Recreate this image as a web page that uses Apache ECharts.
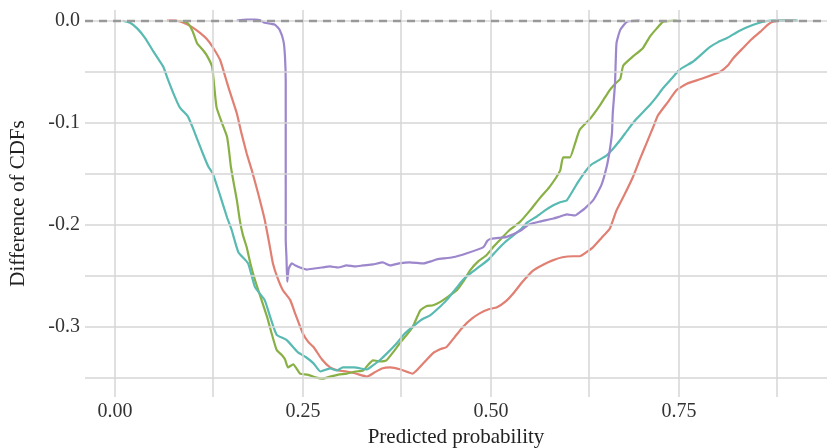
<!DOCTYPE html>
<html>
<head>
<meta charset="utf-8">
<script src="https://cdn.jsdelivr.net/npm/echarts@6/dist/echarts.min.js"></script>
<style>
  html, body { margin: 0; padding: 0; background: #fff; }
  #chart { width: 827px; height: 448px; }
</style>
</head>
<body>
<div id="chart"></div>
<script>
// tick labels and grid positions
const xTicks = [0, 0.25, 0.5, 0.75];
const yTicks = [0, -0.1, -0.2, -0.3];
const xGrid = [0, 0.125, 0.25, 0.375, 0.5, 0.625, 0.75, 0.875];
const yGrid = [0, -0.05, -0.1, -0.15, -0.2, -0.25, -0.3, -0.35];

// series: [predicted probability, difference of CDFs]
const redLine = [
  [0.069,0],[0.08,0],[0.091,-0.002],[0.102,-0.006],[0.113,-0.012],[0.122,-0.018],[0.13,-0.026],[0.14,-0.039],
  [0.149,-0.061],[0.155,-0.075],[0.162,-0.091],[0.168,-0.11],[0.175,-0.13],[0.182,-0.147],[0.188,-0.163],
  [0.194,-0.18],[0.199,-0.195],[0.205,-0.218],[0.21,-0.238],[0.216,-0.252],[0.223,-0.264],[0.233,-0.274],
  [0.24,-0.288],[0.25,-0.307],[0.257,-0.315],[0.264,-0.32],[0.275,-0.332],[0.286,-0.34],[0.297,-0.343],
  [0.308,-0.344],[0.32,-0.346],[0.335,-0.349],[0.345,-0.345],[0.355,-0.341],[0.366,-0.34],[0.38,-0.342],
  [0.396,-0.346],[0.41,-0.336],[0.423,-0.326],[0.433,-0.322],[0.441,-0.32],[0.452,-0.31],[0.463,-0.3],
  [0.475,-0.292],[0.485,-0.287],[0.497,-0.283],[0.508,-0.281],[0.52,-0.275],[0.529,-0.268],[0.542,-0.256],
  [0.556,-0.245],[0.57,-0.239],[0.582,-0.235],[0.595,-0.232],[0.609,-0.231],[0.618,-0.231],[0.627,-0.227],
  [0.636,-0.222],[0.647,-0.213],[0.658,-0.204],[0.667,-0.186],[0.678,-0.17],[0.689,-0.153],[0.698,-0.136],
  [0.707,-0.12],[0.716,-0.104],[0.722,-0.093],[0.735,-0.08],[0.747,-0.068],[0.76,-0.062],[0.78,-0.057],
  [0.805,-0.05],[0.815,-0.044],[0.822,-0.037],[0.835,-0.027],[0.847,-0.018],[0.858,-0.011],[0.868,-0.004],
  [0.875,-0.001],[0.89,0],[0.906,0]
];
const greenLine = [
  [0.086,0],[0.096,-0.002],[0.103,-0.01],[0.109,-0.022],[0.116,-0.028],[0.122,-0.034],[0.129,-0.045],
  [0.132,-0.065],[0.135,-0.085],[0.142,-0.1],[0.149,-0.114],[0.152,-0.13],[0.154,-0.143],[0.158,-0.16],
  [0.162,-0.176],[0.166,-0.196],[0.17,-0.21],[0.175,-0.222],[0.18,-0.238],[0.186,-0.254],[0.194,-0.272],
  [0.202,-0.29],[0.208,-0.306],[0.215,-0.323],[0.222,-0.328],[0.226,-0.332],[0.23,-0.34],[0.237,-0.337],
  [0.246,-0.346],[0.256,-0.347],[0.268,-0.35],[0.276,-0.351],[0.286,-0.349],[0.297,-0.347],[0.308,-0.346],
  [0.32,-0.344],[0.33,-0.343],[0.336,-0.338],[0.343,-0.333],[0.352,-0.334],[0.361,-0.333],[0.37,-0.325],
  [0.379,-0.316],[0.388,-0.308],[0.396,-0.3],[0.406,-0.284],[0.414,-0.28],[0.423,-0.279],[0.432,-0.276],
  [0.444,-0.27],[0.455,-0.264],[0.463,-0.256],[0.472,-0.245],[0.483,-0.236],[0.494,-0.23],[0.503,-0.222],
  [0.512,-0.215],[0.525,-0.205],[0.539,-0.197],[0.552,-0.186],[0.565,-0.174],[0.578,-0.163],[0.592,-0.147],
  [0.596,-0.134],[0.605,-0.134],[0.612,-0.12],[0.618,-0.107],[0.632,-0.096],[0.644,-0.084],[0.651,-0.076],
  [0.658,-0.068],[0.665,-0.062],[0.672,-0.057],[0.676,-0.044],[0.689,-0.035],[0.702,-0.027],[0.711,-0.016],
  [0.72,-0.008],[0.729,-0.001],[0.747,0]
];
const tealLine = [
  [0.01,0],[0.02,-0.002],[0.03,-0.008],[0.04,-0.017],[0.05,-0.029],[0.057,-0.037],[0.064,-0.045],
  [0.07,-0.057],[0.078,-0.072],[0.086,-0.085],[0.097,-0.094],[0.105,-0.108],[0.115,-0.127],[0.124,-0.143],
  [0.13,-0.15],[0.14,-0.172],[0.149,-0.193],[0.155,-0.205],[0.164,-0.227],[0.177,-0.238],[0.186,-0.261],
  [0.199,-0.274],[0.207,-0.292],[0.215,-0.308],[0.228,-0.313],[0.243,-0.325],[0.254,-0.33],[0.264,-0.336],
  [0.273,-0.344],[0.286,-0.341],[0.295,-0.343],[0.303,-0.34],[0.318,-0.34],[0.335,-0.342],[0.343,-0.338],
  [0.352,-0.333],[0.362,-0.326],[0.375,-0.316],[0.385,-0.307],[0.396,-0.3],[0.408,-0.293],[0.419,-0.289],
  [0.43,-0.282],[0.441,-0.274],[0.452,-0.264],[0.463,-0.254],[0.474,-0.247],[0.485,-0.241],[0.497,-0.234],
  [0.508,-0.225],[0.519,-0.217],[0.529,-0.211],[0.539,-0.205],[0.548,-0.198],[0.561,-0.192],[0.572,-0.186],
  [0.583,-0.181],[0.592,-0.178],[0.601,-0.176],[0.616,-0.158],[0.632,-0.142],[0.643,-0.137],[0.654,-0.132],
  [0.663,-0.125],[0.672,-0.117],[0.683,-0.106],[0.694,-0.096],[0.711,-0.083],[0.72,-0.075],[0.729,-0.066],
  [0.74,-0.057],[0.751,-0.048],[0.769,-0.04],[0.78,-0.033],[0.791,-0.026],[0.802,-0.021],[0.814,-0.017],
  [0.83,-0.01],[0.849,-0.004],[0.862,-0.001],[0.875,0],[0.908,0]
];
const purpleLine = [
  [0.162,0],[0.175,0.001],[0.186,0.001],[0.193,0.0005],[0.199,-0.002],[0.207,-0.003],[0.213,-0.004],
  [0.219,-0.009],[0.224,-0.02],[0.226,-0.035],[0.227,-0.06],[0.227,-0.12],[0.227,-0.18],[0.227,-0.215],
  [0.228,-0.232],[0.229,-0.256],[0.231,-0.243],[0.235,-0.238],[0.24,-0.24],[0.246,-0.242],[0.255,-0.244],
  [0.265,-0.243],[0.275,-0.242],[0.286,-0.241],[0.297,-0.242],[0.308,-0.24],[0.32,-0.241],[0.33,-0.24],
  [0.343,-0.239],[0.356,-0.237],[0.366,-0.24],[0.378,-0.238],[0.392,-0.237],[0.41,-0.238],[0.42,-0.236],
  [0.428,-0.234],[0.449,-0.232],[0.468,-0.228],[0.49,-0.222],[0.495,-0.216],[0.499,-0.214],[0.51,-0.213],
  [0.521,-0.212],[0.539,-0.206],[0.55,-0.2],[0.565,-0.197],[0.583,-0.194],[0.592,-0.192],[0.601,-0.19],
  [0.612,-0.191],[0.618,-0.188],[0.625,-0.184],[0.636,-0.176],[0.647,-0.161],[0.654,-0.143],[0.658,-0.127],
  [0.661,-0.11],[0.662,-0.091],[0.665,-0.062],[0.667,-0.022],[0.672,-0.009],[0.681,-0.001],[0.698,0]
];

const chart = echarts.init(document.getElementById("chart"));
const font = "'Liberation Serif', 'DejaVu Serif', serif";
const gridColor = "#d6d6d6";

// grid lines drawn as markLines so the axis range can stay free
const gridLines = xGrid.map((v) => ({ xAxis: v }))
  .concat(yGrid.map((v) => ({ yAxis: v })));

const lineSeries = (name, data, color) => ({
  name: name,
  type: "line",
  data: data,
  showSymbol: false,
  smooth: 0.15,
  lineStyle: { color: color, width: 2.2 },
  z: 3,
});

chart.setOption({
  animation: false,
  grid: { left: 85, right: 0, top: 10, bottom: 51, outerBoundsMode: "none" },
  xAxis: {
    type: "value",
    min: -0.04,
    max: 0.947,
    name: "Predicted probability",
    nameLocation: "middle",
    nameGap: 24,
    nameTextStyle: { fontFamily: font, fontSize: 21, color: "#222" },
    axisLine: { show: false },
    axisTick: { show: false },
    splitLine: { show: false },
    axisLabel: {
      customValues: xTicks,
      formatter: (v) => v.toFixed(2),
      fontFamily: font,
      fontSize: 20,
      color: "#333",
      margin: 5,
    },
  },
  yAxis: {
    type: "value",
    min: -0.369,
    max: 0.0105,
    name: "Difference of CDFs",
    nameLocation: "middle",
    nameGap: 56,
    nameTextStyle: { fontFamily: font, fontSize: 21, color: "#222" },
    axisLine: { show: false },
    axisTick: { show: false },
    splitLine: { show: false },
    axisLabel: {
      customValues: yTicks,
      formatter: (v) => v.toFixed(1),
      fontFamily: font,
      fontSize: 20,
      color: "#333",
      margin: 5,
    },
  },
  series: [
    {
      type: "line",
      data: [],
      markLine: {
        silent: true,
        symbol: "none",
        label: { show: false },
        lineStyle: { color: gridColor, type: "solid", width: 1.5 },
        data: gridLines,
      },
      z: 1,
    },
    lineSeries("red", redLine, "#e07f72"),
    lineSeries("green", greenLine, "#88b045"),
    lineSeries("teal", tealLine, "#58bab2"),
    lineSeries("purple", purpleLine, "#9c86cc"),
    {
      type: "line",
      data: [],
      markLine: {
        silent: true,
        symbol: "none",
        label: { show: false },
        lineStyle: { color: "#999999", type: [8, 6], width: 2.4 },
        data: [{ yAxis: 0 }],
      },
      z: 5,
    },
  ],
});
</script>
</body>
</html>
